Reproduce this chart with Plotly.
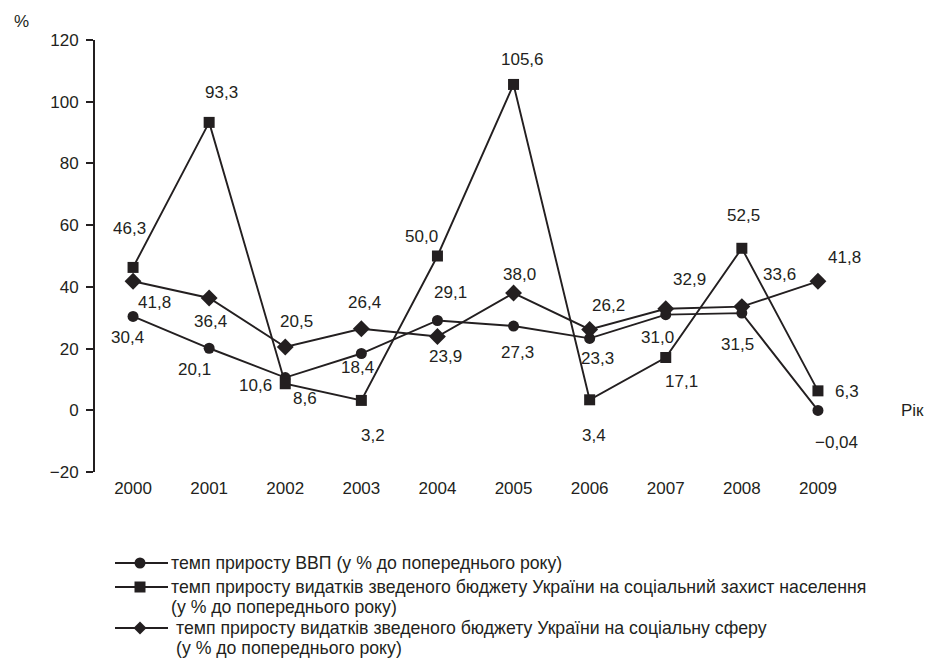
import plotly.graph_objects as go

# Years on the category axis
years = ["2000", "2001", "2002", "2003", "2004", "2005", "2006", "2007", "2008", "2009"]

# Growth rates, % to the previous year
gdp_growth = [30.4, 20.1, 10.6, 18.4, 29.1, 27.3, 23.3, 31.0, 31.5, -0.04]
social_protection_growth = [46.3, 93.3, 8.6, 3.2, 50.0, 105.6, 3.4, 17.1, 52.5, 6.3]
social_sphere_growth = [41.8, 36.4, 20.5, 26.4, 23.9, 38.0, 26.2, 32.9, 33.6, 41.8]

series_names = [
    "темп приросту ВВП (у % до попереднього року)",
    "темп приросту видатків зведеного бюджету України на соціальний захист населення<br>(у % до попереднього року)",
    "темп приросту видатків зведеного бюджету України на соціальну сферу<br>(у % до попереднього року)",
]

INK = "#231f20"
FONT = "Liberation Sans, Arial, Helvetica, sans-serif"

# Pixel offsets (right, down) of each value label from its marker
gdp_label_offsets = [(-6, 21), (-15, 21), (-30, 8), (-4, 14), (13, -28),
                     (4, 26), (8, 20), (-8, 23), (-4, 31), (19, 32)]
protection_label_offsets = [(-4, -39), (12, -30), (20, 15), (12, 35), (-16, -20),
                            (9, -25), (4, 36), (16, 24), (2, -33), (29, 1)]
sphere_label_offsets = [(21, 21), (1, 24), (11, -26), (3, -26), (8, 20),
                        (6, -19), (19, -24), (24, -29), (38, -32), (27, -24)]


def fmt(v):
    s = f"{v:.2f}" if (v != 0 and abs(v) < 0.1) else f"{v:.1f}"
    return s.replace("-", "\u2212").replace(".", ",")


# Figure geometry (pixels)
W, H = 927, 660
ML, MR, MT, MB = 95, 71, 40, 188
PW, PH = W - ML - MR, H - MT - MB


def px_x(px):
    return (px - ML) / PW


def px_y(py):
    return (H - MB - py) / PH


x_pos = list(range(len(years)))

fig = go.Figure()

series = [
    (gdp_growth, "circle", 11, gdp_label_offsets),
    (social_protection_growth, "square", 11, protection_label_offsets),
    (social_sphere_growth, "diamond", 13, sphere_label_offsets),
]

for (vals, symbol, msize, _), name in zip(series, series_names):
    fig.add_trace(go.Scatter(
        x=x_pos, y=vals, mode="lines+markers", name=name.replace("<br>", " "),
        line=dict(color=INK, width=1.9),
        marker=dict(symbol=symbol, size=msize, color=INK),
        showlegend=False,
    ))

annotations = []
for vals, _, _, offsets in series:
    for i, v in enumerate(vals):
        dx, dy = offsets[i]
        annotations.append(dict(
            x=i, y=v, xref="x", yref="y", text=fmt(v), showarrow=False,
            xshift=dx, yshift=-dy, font=dict(size=17, color=INK, family=FONT),
        ))

annotations.append(dict(
    x=-0.097, y=1.043, xref="paper", yref="paper", text="%", showarrow=False,
    xanchor="center", yanchor="middle", font=dict(size=17, color=INK, family=FONT),
))
annotations.append(dict(
    x=1.057, y=0, xref="paper", yref="y", text="Рік", showarrow=False,
    xanchor="left", yanchor="middle", font=dict(size=17, color=INK, family=FONT),
))

# Key below the chart: a line with the series marker, then the description
shapes = []
key_rows = [(563, 170), (587, 170), (628, 175)]  # first-line centre y, text x
key_line_gap = 20
diamond_path = "M0,6.5 L6.5,0 L0,-6.5 L-6.5,0 Z"
for (vals, symbol, _, _), name, (row_y, text_x) in zip(series, series_names, key_rows):
    shapes.append(dict(
        type="line", xref="paper", yref="paper",
        x0=px_x(115), x1=px_x(168), y0=px_y(row_y), y1=px_y(row_y),
        line=dict(color=INK, width=1.9),
    ))
    common = dict(xref="paper", yref="paper", xsizemode="pixel", ysizemode="pixel",
                  xanchor=px_x(140), yanchor=px_y(row_y),
                  fillcolor=INK, line=dict(color=INK, width=0))
    if symbol == "circle":
        shapes.append(dict(type="circle", x0=-5.5, x1=5.5, y0=-5.5, y1=5.5, **common))
    elif symbol == "square":
        shapes.append(dict(type="rect", x0=-5.5, x1=5.5, y0=-5.5, y1=5.5, **common))
    else:
        shapes.append(dict(type="path", path=diamond_path, **common))
    for k, line_text in enumerate(name.split("<br>")):
        annotations.append(dict(
            x=px_x(text_x), y=px_y(row_y + k * key_line_gap),
            xref="paper", yref="paper", text=line_text, showarrow=False,
            xanchor="left", yanchor="middle", borderpad=0,
            font=dict(size=17.7, color=INK, family=FONT),
        ))

fig.update_layout(
    width=W, height=H,
    margin=dict(l=ML, r=MR, t=MT, b=MB, autoexpand=False),
    paper_bgcolor="white", plot_bgcolor="white",
    font=dict(family=FONT, size=17, color=INK),
    showlegend=False,
    annotations=annotations,
    shapes=shapes,
    xaxis=dict(
        range=[-0.5, 9.5], tickvals=x_pos, ticktext=years,
        showline=False, showgrid=False, zeroline=False, ticks="",
        tickfont=dict(size=17, color=INK), fixedrange=True,
        ticklabelstandoff=4,
    ),
    # horizontal axis line through zero with boundary ticks
    xaxis2=dict(
        range=[-0.5, 9.5], overlaying="x", anchor="free",
        position=20 / 140, side="bottom",
        showline=True, linecolor=INK, linewidth=2,
        ticks="outside", ticklen=7, tickwidth=2, tickcolor=INK,
        tickvals=[i + 0.5 for i in x_pos], showticklabels=False,
        showgrid=False, zeroline=False,
    ),
    yaxis=dict(
        range=[-20, 120], dtick=20, tick0=0,
        showline=True, linecolor=INK, linewidth=2,
        ticks="outside", ticklen=7, tickwidth=2, tickcolor=INK,
        showgrid=False, zeroline=False,
        tickfont=dict(size=17, color=INK), ticklabelstandoff=4,
    ),
)

fig.write_html("out.html")
